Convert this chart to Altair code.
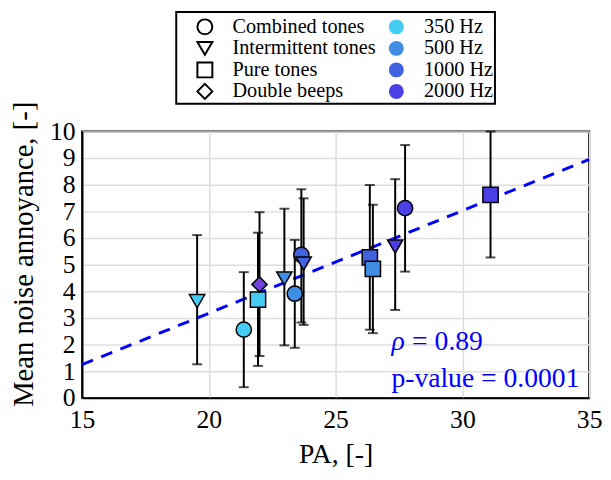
import altair as alt
import pandas as pd

# ---- data ----
pa = [19.54, 21.38, 21.94, 22.00, 22.98, 23.39, 23.65, 23.74, 26.35, 26.47, 27.35, 27.74, 31.11]
annoyance = [3.63, 2.56, 3.69, 4.26, 4.48, 3.91, 5.37, 5.04, 5.27, 4.84, 5.68, 7.12, 7.62]
err_low = [1.26, 0.40, 1.20, 1.57, 1.97, 1.88, 2.83, 2.74, 2.56, 2.43, 3.30, 4.74, 5.27]
err_high = [6.11, 4.72, 6.20, 6.97, 7.10, 5.93, 7.83, 7.49, 7.99, 7.25, 8.21, 9.49, 10.0]
sound_type = ["Intermittent tones", "Combined tones", "Pure tones", "Double beeps",
              "Intermittent tones", "Combined tones", "Combined tones", "Intermittent tones",
              "Pure tones", "Pure tones", "Intermittent tones", "Combined tones", "Pure tones"]
frequency = ["350 Hz", "350 Hz", "350 Hz", "Double beeps", "500 Hz", "500 Hz", "1000 Hz",
             "1000 Hz", "1000 Hz", "500 Hz", "2000 Hz", "2000 Hz", "2000 Hz"]

type_order = ["Combined tones", "Intermittent tones", "Pure tones", "Double beeps"]
type_shapes = ["circle", "triangle-down", "square", "diamond"]
freq_order = ["350 Hz", "500 Hz", "1000 Hz", "2000 Hz", "Double beeps"]
freq_colors = ["#44ccf5", "#3f8ee4", "#4163e0", "#4a40e6", "#7040df"]

fit_pa = [15, 35]
fit_annoyance = [1.25, 8.95]

stats_part = ["rho_sym", "rho_val", "pval"]
stats_text = ["ρ", "= 0.89", "p-value = 0.0001"]
stats_x = [27.2, 27.2, 27.2]
stats_y = [1.81, 1.81, 0.41]

FONT = "Liberation Serif"

df = pd.DataFrame({
    "pa": pa, "annoyance": annoyance, "lo": err_low, "hi": err_high,
    "type": sound_type, "freq": frequency,
})
df["order"] = range(len(df))
fit_df = pd.DataFrame({"pa": fit_pa, "annoyance": fit_annoyance})
txt_df = pd.DataFrame({"part": stats_part, "pa": stats_x, "annoyance": stats_y,
                       "label": stats_text})

xscale = alt.Scale(domain=[15, 35], nice=False, zero=False)
yscale = alt.Scale(domain=[0, 10], nice=False)
shape_scale = alt.Scale(domain=type_order, range=type_shapes)
fill_scale = alt.Scale(domain=freq_order, range=freq_colors)

x_axis = alt.Axis(values=[15, 20, 25, 30, 35], title="PA, [-]", labelFontSize=26,
                  titleFontSize=28, labelPadding=9, titlePadding=8, ticks=False, tickSize=0,
                  grid=True, labelFont=FONT, titleFont=FONT, labelOverlap=False,
                  labelFlush=False)
y_axis = alt.Axis(values=list(range(11)), title="Mean noise annoyance, [-]", labelFontSize=26,
                  titleFontSize=29, labelPadding=7, titlePadding=11, ticks=False, tickSize=0,
                  grid=True, labelFont=FONT, titleFont=FONT, labelOverlap=False,
                  labelFlush=False, titleY=124)

line = alt.Chart(fit_df).mark_line(color="#0000ff", strokeWidth=3, strokeDash=[12, 9]).encode(
    x=alt.X("pa:Q", scale=xscale, axis=x_axis),
    y=alt.Y("annoyance:Q", scale=yscale, axis=y_axis),
)

bars = alt.Chart(df).mark_errorbar(ticks=True, thickness=2, size=10, color="black").encode(
    x=alt.X("pa:Q", scale=xscale, axis=x_axis),
    y=alt.Y("lo:Q", scale=yscale, axis=y_axis),
    y2="hi:Q",
)

points = alt.Chart(df).mark_point(filled=True, size=240, stroke="black", strokeWidth=1.5,
                                  opacity=1).encode(
    x=alt.X("pa:Q", scale=xscale, axis=x_axis),
    y=alt.Y("annoyance:Q", scale=yscale, axis=y_axis),
    shape=alt.Shape("type:N", scale=shape_scale, legend=None),
    fill=alt.Fill("freq:N", scale=fill_scale, legend=None),
    order="order:Q",
)

txt_enc = dict(
    x=alt.X("pa:Q", scale=xscale, axis=x_axis),
    y=alt.Y("annoyance:Q", scale=yscale, axis=y_axis),
    text="label:N",
)
rho_sym = alt.Chart(txt_df).transform_filter("datum.part == 'rho_sym'").mark_text(
    align="left", baseline="alphabetic", font=FONT, fontSize=28, fontStyle="italic",
    color="#0000ff").encode(**txt_enc)
rho_val = alt.Chart(txt_df).transform_filter("datum.part == 'rho_val'").mark_text(
    align="left", baseline="alphabetic", font=FONT, fontSize=28, dx=21,
    color="#0000ff").encode(**txt_enc)
pval = alt.Chart(txt_df).transform_filter("datum.part == 'pval'").mark_text(
    align="left", baseline="alphabetic", font=FONT, fontSize=28,
    color="#0000ff").encode(**txt_enc)

main = alt.layer(line, bars, points, rho_sym, rho_val, pval).properties(width=514, height=270)

# ---- legend panel ----
leg_df = pd.DataFrame({
    "col": [0] * 4 + [1] * 4,
    "row": [0, 1, 2, 3] * 2,
    "label": type_order + freq_order[:4],
})
lx = alt.Scale(domain=[-0.1495, 1.515], nice=False, zero=False)
ly = alt.Scale(domain=[-0.688, 3.578], nice=False, zero=False, reverse=True)

leg_base = alt.Chart(leg_df)
leg_shapes = leg_base.transform_filter("datum.col == 0").mark_point(
    filled=True, fill="white", stroke="black", strokeWidth=2, size=230, opacity=1).encode(
    x=alt.X("col:Q", scale=lx, axis=None),
    y=alt.Y("row:Q", scale=ly, axis=None),
    shape=alt.Shape("label:N", scale=shape_scale, legend=None),
)
leg_colors = leg_base.transform_filter("datum.col == 1").mark_point(
    filled=True, shape="circle", size=230, opacity=1).encode(
    x=alt.X("col:Q", scale=lx, axis=None),
    y=alt.Y("row:Q", scale=ly, axis=None),
    fill=alt.Fill("label:N", scale=fill_scale, legend=None),
)
leg_text = leg_base.mark_text(align="left", baseline="middle", dx=28, font=FONT,
                              fontSize=20.5, color="black").encode(
    x=alt.X("col:Q", scale=lx, axis=None),
    y=alt.Y("row:Q", scale=ly, axis=None),
    text="label:N",
)
legend = alt.layer(leg_shapes, leg_colors, leg_text).properties(width=323, height=93)

chart = alt.vconcat(legend, main, spacing=28, center=True, bounds="flush").properties(
    padding=0,
).configure(
    font=FONT,
).configure_view(
    stroke="black", strokeWidth=2,
).configure_axis(
    labelFont=FONT, titleFont=FONT, labelColor="black", titleColor="black",
    titleFontWeight="normal", domainColor="black", domainWidth=2,
    gridColor="#dedede", gridWidth=1.5,
)

chart.save("out.html", embed_options={"renderer": "svg", "actions": False})
